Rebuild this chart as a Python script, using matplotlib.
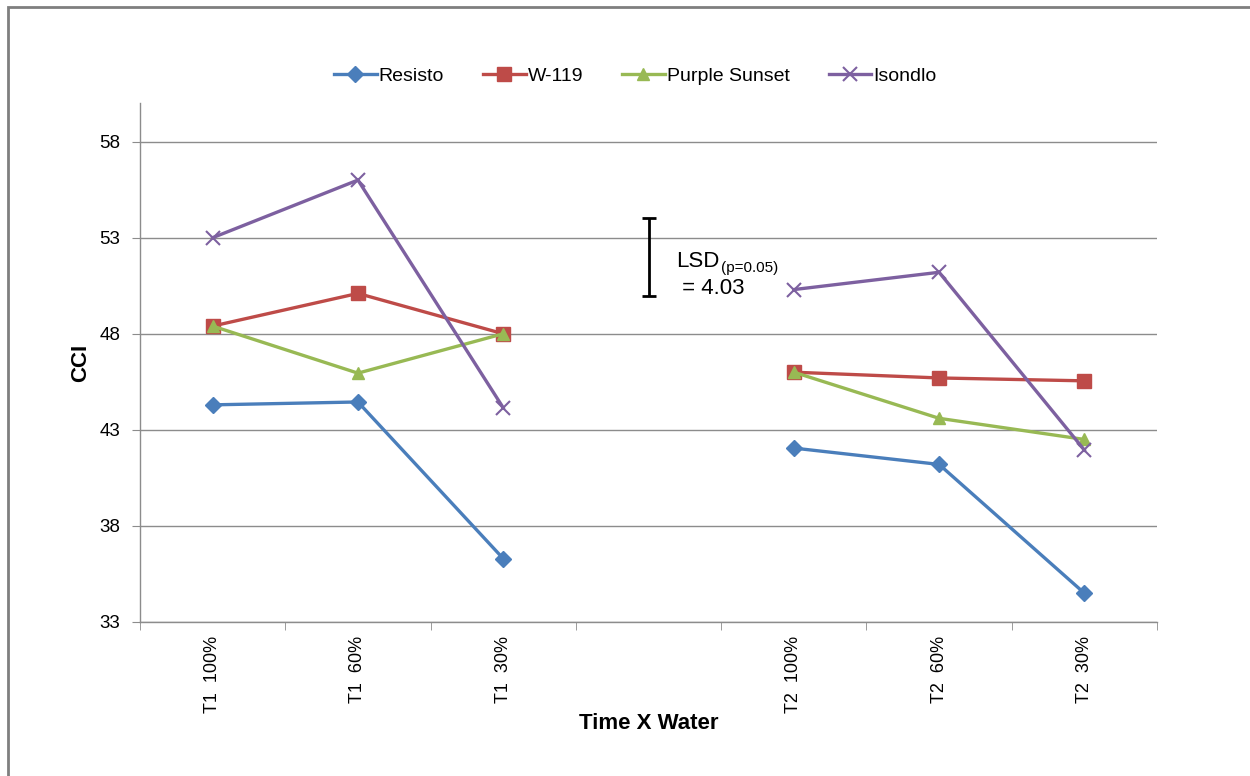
import numpy as np
import matplotlib
matplotlib.use('Agg')
import matplotlib.pyplot as plt
from matplotlib.patches import Rectangle

plt.rcParams.update({
    'font.family': ['Liberation Sans', 'DejaVu Sans'],
    'figure.facecolor': 'white',
})

# ── Data ────────────────────────────────────────────────────────────────────
categories = ['T1  100%', 'T1  60%', 'T1  30%', '', 'T2  100%', 'T2  60%', 'T2  30%']
nan = np.nan
resisto       = [44.3, 44.45, 36.3, nan, 42.05, 41.2, 34.5]
w119          = [48.4, 50.1, 48.0, nan, 46.0, 45.7, 45.55]
purple_sunset = [48.4, 45.95, 48.0, nan, 46.0, 43.6, 42.5]
isondlo       = [53.0, 56.0, 44.15, nan, 50.3, 51.2, 41.95]

lsd_value = 4.03
lsd_center = 52.0

series = [
    ('Resisto',       resisto,       '#4A7EBB', 'D', 8),
    ('W-119',         w119,          '#BE4B48', 's', 10),
    ('Purple Sunset', purple_sunset, '#98B954', '^', 9),
    ('Isondlo',       isondlo,       '#7D60A0', 'x', 10),
]

# ── Plot ────────────────────────────────────────────────────────────────────
fig = plt.figure(figsize=(12.5, 7.76), dpi=100)
ax = fig.add_axes([0.112, 0.1985, 0.8136, 0.6685])

x = np.arange(len(categories))
for name, vals, col, mk, ms in series:
    ax.plot(x, vals, color=col, lw=2.4, marker=mk, markersize=ms,
            markeredgewidth=1.5 if mk == 'x' else 1.0, label=name)

# LSD bar with its label (subscript drawn as a second, smaller text)
ax.errorbar([3], [lsd_center], yerr=[lsd_value / 2], fmt='none',
            ecolor='black', elinewidth=2.0, capsize=5, capthick=2.0)
lsd_txt = ax.text(3.19, 51.45, 'LSD', fontsize=16, ha='left', va='baseline')
ax.annotate('(p=0.05)', xy=(1.0, 0.0), xycoords=lsd_txt, xytext=(1, 0.5),
            textcoords='offset points', fontsize=11, ha='left', va='baseline')
ax.text(3.19, 50.05, ' = %.2f' % lsd_value, fontsize=16,
        ha='left', va='baseline')

# Axes styling
ax.set_xlim(-0.5, len(categories) - 0.5)
ax.set_ylim(33, 60)
ax.set_yticks(np.arange(33, 59, 5))
ax.yaxis.grid(True, color='#8C8C8C', lw=1.0)
ax.set_axisbelow(True)

ax.set_xticks(x)
ax.set_xticklabels(categories, rotation=90, fontsize=13)
ax.set_xticks(np.arange(-0.5, len(categories), 1.0), minor=True)
ax.tick_params(axis='x', which='major', length=0, pad=10)
ax.tick_params(axis='x', which='minor', length=6, color='#8C8C8C', direction='out')
ax.tick_params(axis='y', length=6, color='#8C8C8C', labelsize=13.5, pad=8)

for side in ('top', 'right'):
    ax.spines[side].set_visible(False)
for side in ('left', 'bottom'):
    ax.spines[side].set_color('#8C8C8C')
    ax.spines[side].set_linewidth(1.0)

ax.set_ylabel('CCI', fontsize=16, fontweight='bold', labelpad=6)
ax.set_xlabel('Time X Water', fontsize=16, fontweight='bold', labelpad=0)

ax.legend(loc='lower center', bbox_to_anchor=(0.487, 1.002), ncol=4,
          frameon=False, fontsize=14, handlelength=2.2, handletextpad=0.1,
          columnspacing=2.0)

# Chart border
fig.patches.append(Rectangle((0.0065, -0.05), 1.2, 1.041, transform=fig.transFigure,
                             fill=False, edgecolor='#7F7F7F', lw=2.0))

fig.savefig('out.png', dpi=100)
